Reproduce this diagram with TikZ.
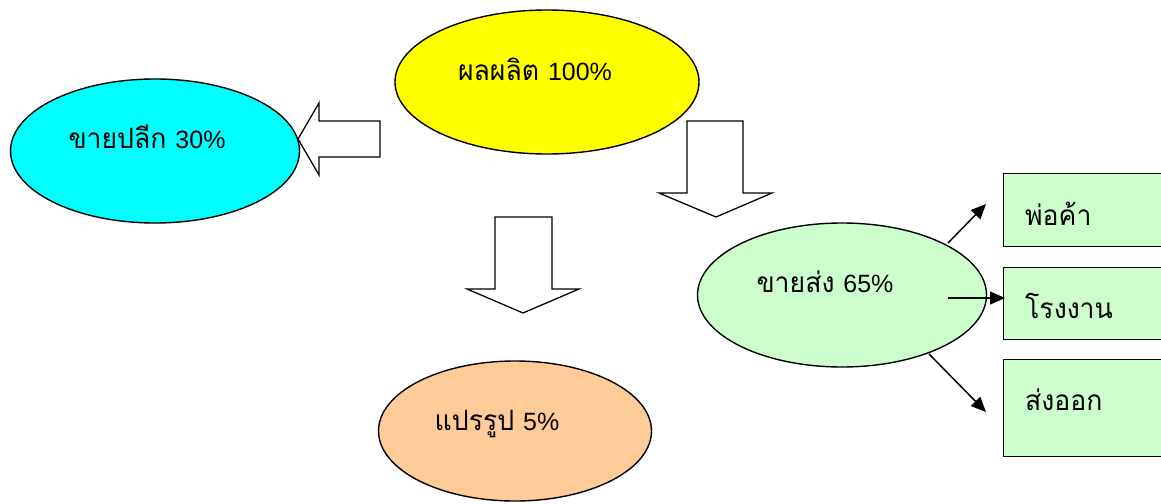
\documentclass[tikz,border=0pt]{standalone}
\usepackage{fontspec}
\usetikzlibrary{shapes.geometric,arrows.meta}
\newfontfamily\thaifont[Script=Thai,FakeStretch=0.95]{Loma}
\newfontfamily\latinfont{Liberation Sans}
\newcommand{\pct}[1]{{\latinfont\fontsize{25}{30}\selectfont #1\%}}
\definecolor{cyanfill}{HTML}{00FFFF}
\definecolor{yellowfill}{HTML}{FFFF00}
\definecolor{greenfill}{HTML}{CCFFCC}
\definecolor{orangefill}{HTML}{FFCC99}
\tikzset{
  oval/.style={ellipse, draw=black, line width=1.4pt, inner sep=0pt},
  lbl/.style={font=\thaifont\fontsize{28}{32}\selectfont, inner sep=0pt, anchor=base},
  boxlbl/.style={font=\thaifont\fontsize{28}{32}\selectfont, inner sep=0pt, anchor=base west},
  catbox/.style={draw=black, fill=greenfill, line width=1.4pt, anchor=north west, minimum width=172pt, inner sep=0pt},
  blockarrow/.style={draw=black, fill=white, line width=1.3pt, line join=miter},
  link/.style={line width=1.5pt, -{Triangle[length=15pt,width=13pt]}}
}
\begin{document}
\begin{tikzpicture}[x=1pt,y=-1pt]
\useasboundingbox (0,0) rectangle (1161,503);
\begin{scope}
\clip (0,0) rectangle (1161,503);
% ellipses
\node[oval, fill=yellowfill, minimum width=304pt, minimum height=144pt] (prod) at (547,82) {};
\node[oval, fill=cyanfill, minimum width=289pt, minimum height=144pt] (retail) at (155,151) {};
\node[oval, fill=greenfill, minimum width=289pt, minimum height=144pt] (whole) at (842,295) {};
\node[oval, fill=orangefill, minimum width=273pt, minimum height=140pt] (proc) at (515,431) {};
% labels
\node[lbl] (tprod) at (535,80) {ผลผลิต \pct{100}};
\node[lbl] (tretail) at (147,148) {ขายปลีก \pct{30}};
\node[lbl] (twhole) at (825,292) {ขายส่ง \pct{65}};
\node[lbl] (tproc) at (497,430) {แปรรูป \pct{5}};
% block arrows
\draw[blockarrow] (298,139) -- (319,103) -- (319,121) -- (380,121) -- (380,157) -- (319,157) -- (319,175) -- cycle;
\draw[blockarrow] (687,121) -- (743,121) -- (743,193) -- (772,193) -- (716,217) -- (659,193) -- (687,193) -- cycle;
\draw[blockarrow] (495,217) -- (552,217) -- (552,289) -- (579,289) -- (523,313) -- (467,289) -- (495,289) -- cycle;
% boxes
\node[catbox, minimum height=73pt] (b1) at (1003,173) {};
\node[catbox, minimum height=72pt] (b2) at (1003,267) {};
\node[catbox, minimum height=97pt] (b3) at (1003,359) {};
\node[boxlbl] (t1) at (1025,225) {พ่อค้า};
\node[boxlbl] (t2) at (1025,318) {โรงงาน};
\node[boxlbl] (t3) at (1025,410) {ส่งออก};
\end{scope}
% connectors
\coordinate (s1) at (948,243);
\coordinate (s2) at (948,298);
\coordinate (s3) at (929,354);
\coordinate (e1) at (986,204);
\coordinate (e2) at (1005,298);
\coordinate (e3) at (986,412);
\draw[link] (s1) -- (e1);
\draw[link] (s2) -- (e2);
\draw[link] (s3) -- (e3);
\end{tikzpicture}
\end{document}
